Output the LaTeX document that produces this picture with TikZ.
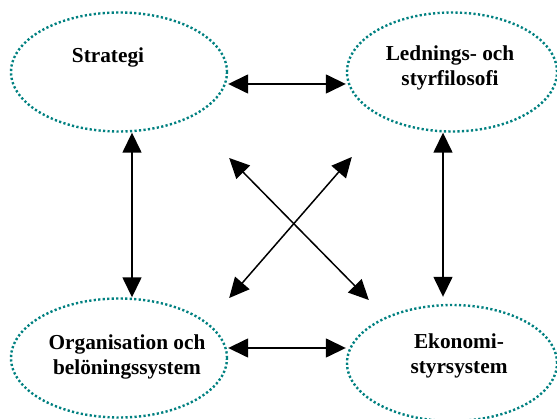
\documentclass[tikz,border=0pt]{standalone}
\usepackage{fontspec}
\setmainfont{Liberation Serif}
\usetikzlibrary{arrows.meta,shapes.geometric}
\tikzset{
	area/.style={ellipse, draw=teal, line width=2.4pt, dash pattern=on 2.2pt off 2.3pt,
		minimum width=216pt, minimum height=119pt, inner sep=0pt},
	rubrik/.style={font=\bfseries\fontsize{21.3}{25}\selectfont, align=center, inner sep=0pt},
	pil/.style={line width=1.5pt,
		{Triangle[length=20pt,width=19pt]}-{Triangle[length=20pt,width=19pt]}}
}
\begin{document}
\begin{tikzpicture}[x=1pt,y=-1pt]
		\useasboundingbox (0,0) rectangle (557,419);
		% ellipser
		\node[area] (s) at (119,72) {};
		\node[area, minimum width=210pt] (l) at (452,72) {};
		\node[area] (o) at (119,358) {};
		\node[area, minimum width=210pt, minimum height=116pt] (e) at (452,363) {};
		% texter
		\node[rubrik, anchor=base] (st) at (108,63) {Strategi};
		\node[rubrik] (le) at (450,68) {Lednings- och\\styrfilosofi};
		\node[rubrik] (or) at (127,357) {Organisation och\\belöningssystem};
		\node[rubrik] (ek) at (459,356) {Ekonomi-\\styrsystem};
		% pilar
		\draw[pil] ([yshift=-12pt]s.east) -- ([yshift=-12pt]l.west);
		\draw[pil] ([yshift=10pt]o.east) -- ([yshift=15pt]e.west);
		\draw[pil] ([xshift=13pt]s.south) -- ([xshift=13pt]o.north);
		\draw[pil] ([xshift=-9pt]l.south) -- ([xshift=-9pt,yshift=7pt]e.north);
		\draw[pil] ([shift={(1pt,-86pt)}]s.east) -- ([shift={(23pt,63pt)}]e.west);
		\draw[pil] ([shift={(1pt,60pt)}]o.east) -- ([shift={(6pt,-85pt)}]l.west);
	\end{tikzpicture}
\end{document}
